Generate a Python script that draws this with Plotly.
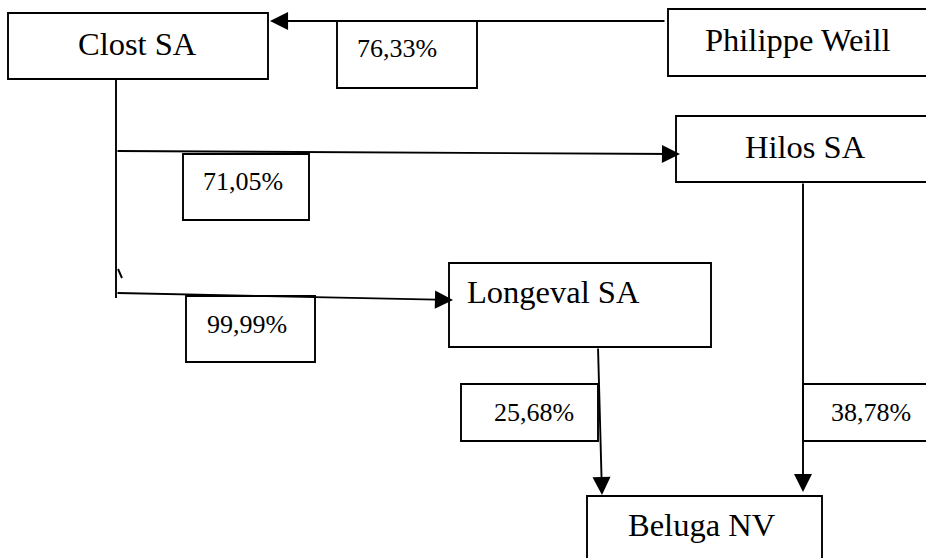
import plotly.graph_objects as go

# ---- data ----
entities = ["Philippe Weill", "Clost SA", "Hilos SA", "Longeval SA", "Beluga NV"]
owners = ["Philippe Weill", "Clost SA", "Clost SA", "Longeval SA", "Hilos SA"]
owned = ["Clost SA", "Hilos SA", "Longeval SA", "Beluga NV", "Beluga NV"]
stakes = ["76,33%", "71,05%", "99,99%", "25,68%", "38,78%"]

# ---- layout geometry (pixel coordinates of the drawing) ----
entity_box = {  # x0, y0, x1, y1, text x, text y
    "Clost SA": (8, 13, 268, 79, 137.5, 44),
    "Philippe Weill": (668, 9, 960, 76, 797.5, 40),
    "Hilos SA": (676, 116, 960, 182, 805.5, 147),
    "Longeval SA": (449, 263, 711, 347, 553, 292),
    "Beluga NV": (587, 496, 822, 600, 702, 525),
}
stake_box = [
    (337, 21, 477, 88, 397, 48.5),
    (183, 154, 309, 220, 242.5, 181.5),
    (186, 296, 315, 362, 247, 324),
    (461, 384, 598, 441, 534, 412),
    (803, 384, 960, 441, 871, 412),
]
arrow_path = [  # tail, tip
    ((666, 21), (270, 21)),
    ((116, 151), (680, 154)),
    ((116, 293), (453, 300)),
    ((598, 347), (602, 495)),
    ((803, 182), (803, 492)),
]
trunk = ((116, 79), (116, 298))
tick = ((118, 269), (122, 278))

W, H = 926, 558
LW = 1.9
FONT = "Liberation Serif, Times New Roman, serif"

shapes = []
annotations = []

for name in entities:
    x0, y0, x1, y1, tx, ty = entity_box[name]
    shapes.append(dict(type="rect", xref="x", yref="y", x0=x0, y0=y0, x1=x1, y1=y1,
                       line=dict(color="black", width=LW), fillcolor="white", layer="below"))
    annotations.append(dict(x=tx, y=ty, xref="x", yref="y", text=name, showarrow=False,
                            font=dict(family=FONT, size=32.5, color="black"),
                            xanchor="center", yanchor="middle"))

for (x0, y0, x1, y1, tx, ty), s in zip(stake_box, stakes):
    shapes.append(dict(type="rect", xref="x", yref="y", x0=x0, y0=y0, x1=x1, y1=y1,
                       line=dict(color="black", width=LW), fillcolor="white", layer="below"))
    annotations.append(dict(x=tx, y=ty, xref="x", yref="y", text=s, showarrow=False,
                            font=dict(family=FONT, size=26, color="black"),
                            xanchor="center", yanchor="middle"))

for (p0, p1) in (trunk, tick):
    shapes.append(dict(type="line", xref="x", yref="y", x0=p0[0], y0=p0[1], x1=p1[0], y1=p1[1],
                       line=dict(color="black", width=LW)))

for src, dst, ((tx0, ty0), (hx, hy)) in zip(owners, owned, arrow_path):
    annotations.append(dict(x=hx, y=hy, ax=tx0, ay=ty0, xref="x", yref="y", axref="x", ayref="y",
                            text="", showarrow=True, arrowhead=2, arrowsize=1.9,
                            arrowwidth=LW, arrowcolor="black", standoff=0, startstandoff=0))

fig = go.Figure()
fig.update_layout(
    width=W, height=H,
    margin=dict(l=0, r=0, t=0, b=0),
    paper_bgcolor="white", plot_bgcolor="white",
    xaxis=dict(range=[0, W], visible=False, fixedrange=True),
    yaxis=dict(range=[H, 0], visible=False, fixedrange=True),
    shapes=shapes, annotations=annotations, showlegend=False,
)
fig.write_html("out.html",
               config={"displayModeBar": False, "staticPlot": True},
               post_script="document.body.style.margin='0';document.body.style.overflow='hidden';")
